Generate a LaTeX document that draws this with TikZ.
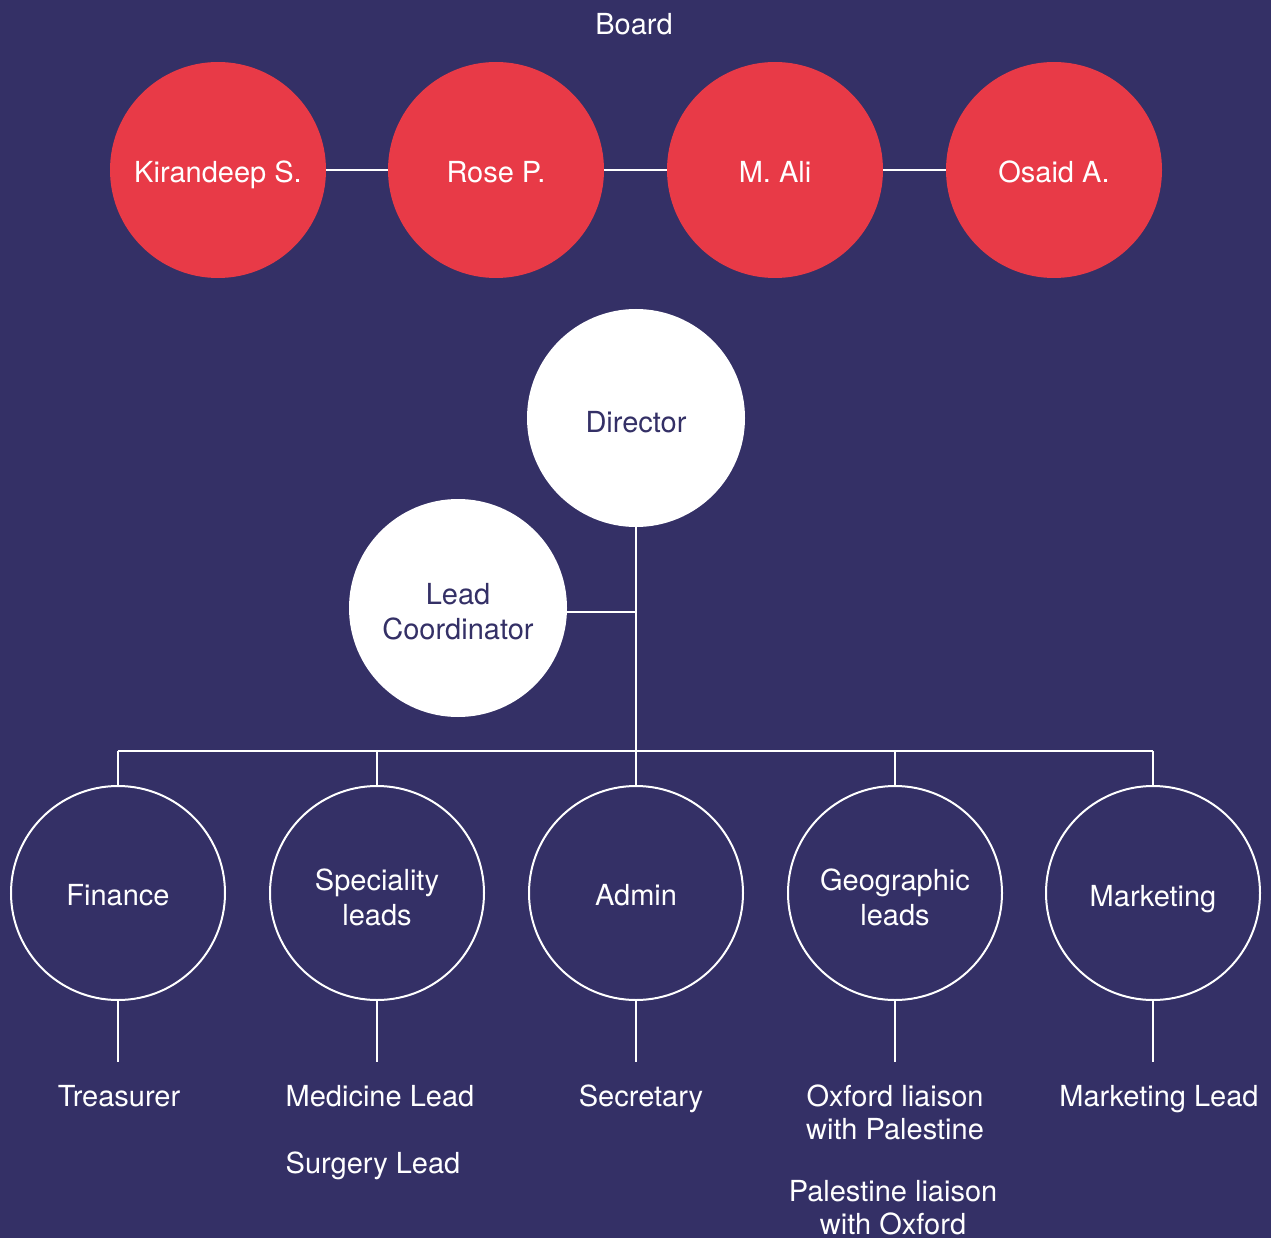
\documentclass[tikz,border=0pt]{standalone}
\usepackage{fontspec}
\setmainfont{TeX Gyre Heros}
\definecolor{bgcol}{HTML}{343066}
\definecolor{redcol}{HTML}{E83A47}
\begin{document}
\begin{tikzpicture}[x=1pt,y=-1pt,
  every node/.style={font=\fontsize{29}{35}\selectfont, inner sep=0pt},
  boardc/.style={circle, fill=redcol, minimum size=216pt, text=white, text height=26pt, text depth=0pt},
  whitec/.style={circle, fill=white, minimum size=218pt, text=bgcol, align=center},
  unitc/.style={circle, draw=white, line width=2pt, minimum size=214pt, text=white, align=center},
  onel/.style={text height=24pt, text depth=0pt},
  lbl/.style={text=white, align=center},
  conn/.style={draw=white, line width=2.5pt}
]
\fill[bgcol] (0,0) rectangle (1271,1238);
\useasboundingbox (0,0) rectangle (1271,1238);

\node[lbl, anchor=base] (board) at (634,35) {Board};

\node[boardc] (k) at (218,170) {Kirandeep S.};
\node[boardc] (r) at (496,170) {Rose P.};
\node[boardc] (m) at (775,170) {M. Ali};
\node[boardc] (o) at (1054,170) {Osaid A.};
\draw[conn] (k) -- (r);
\draw[conn] (r) -- (m);
\draw[conn] (m) -- (o);

\node[whitec, onel, text height=28pt] (dir) at (636,418) {Director};
\node[whitec, label={[text=bgcol, align=center, yshift=-4pt]center:Lead\\Coordinator}] (lc) at (458,608) {};

\coordinate (bus) at (636,751);
\node[unitc, onel] (fin) at (118,893) {Finance};
\node[unitc, label={[lbl, yshift=-4pt]center:Speciality\\leads}] (spe) at (377,893) {};
\node[unitc, onel] (adm) at (636,893) {Admin};
\node[unitc, label={[lbl, yshift=-4pt]center:Geographic\\leads}] (geo) at (895,893) {};
\node[unitc, onel, text height=27pt] (mkt) at (1153,893) {Marketing};

\draw[conn] (dir.south) -- (bus);
\draw[conn] (lc.east) ++(0,4) -- (dir.south |- {(0,612)});
\draw[conn] (fin.north |- bus) -- (mkt.north |- bus);
\foreach \n in {fin,spe,adm,geo,mkt}{
  \draw[conn] (\n.north |- bus) -- (\n.north);
  \draw[conn] (\n.south) -- ++(0,61) coordinate (\n-end);
}

\node[lbl, anchor=base] (tre) at (119,1106) {Treasurer};
\node[lbl, anchor=base] (med) at (380,1106) {Medicine Lead};
\node[lbl, anchor=base] (sur) at (373,1173) {Surgery Lead};
\node[lbl, anchor=base] (sec) at (641,1106) {Secretary};
\node[lbl, anchor=base] (oxf) at (895,1106) {Oxford liaison};
\node[lbl, anchor=base] (oxf2) at (895,1139) {with Palestine};
\node[lbl, anchor=base] (pal) at (893,1201) {Palestine liaison};
\node[lbl, anchor=base] (pal2) at (893,1234) {with Oxford};
\node[lbl, anchor=base] (mle) at (1159,1106) {Marketing Lead};
\end{tikzpicture}
\end{document}
